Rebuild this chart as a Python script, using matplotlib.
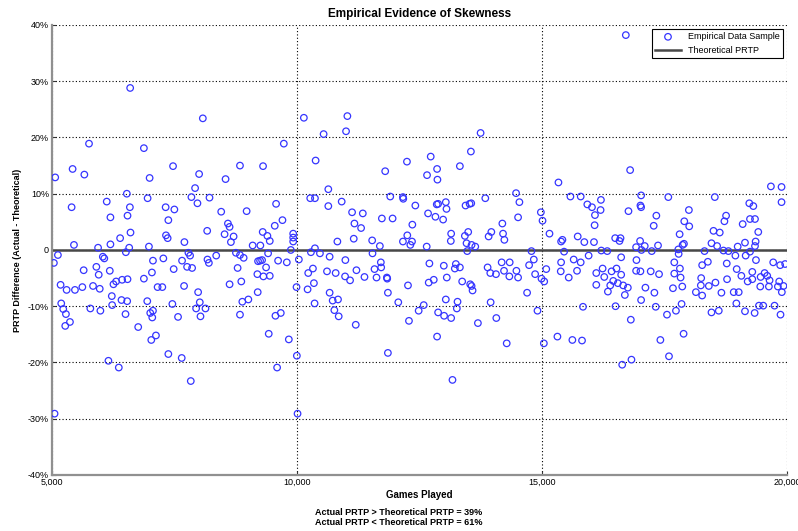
#%%
import numpy as np
import matplotlib
matplotlib.use('Agg')
import matplotlib.pyplot as plt
from matplotlib.ticker import FixedLocator

plt.rcParams['font.family'] = ['Liberation Sans Narrow', 'Liberation Sans', 'DejaVu Sans']

#%%
#--Data (games played, PRTP difference in %)
#5,000 - 10,000 games
games_a = [6598, 8081, 5758, 6878, 9734, 5423, 5663, 5068, 7473, 6995, 8005, 8839, 9310, 8545,
           7923, 6530, 6954, 7848, 8217, 7971, 5403, 6120, 6592, 7322, 7500, 8456, 8975, 9576,
           6195, 6544, 7377, 8593, 8627, 9706, 9549, 9303, 8170, 6605, 7329, 7363, 8525, 8709,
           9399, 9447, 8654, 6393, 7705, 5451, 6195, 5943, 6578, 6981, 9098, 9255, 9925, 9925,
           9925, 9877,
           5123, 6040, 6070, 6510, 7787, 7821, 8354, 8757, 8839, 9413, 5041, 7063, 7275, 7657,
           8176, 8204, 8914, 9208, 9249, 9290, 9617, 9795, 5649, 5908, 5956, 6182, 7042, 7486,
           7760, 7862, 8791, 9372, 9194, 9317, 9447, 5178, 5301, 5471, 5622, 5840, 5977, 6257,
           6311, 6434, 6544, 6878, 7158, 7254, 7698, 8627, 8866, 7985, 9201, 9993, 6223, 6230,
           5191, 5232, 5287, 5273, 5369, 5785, 5990, 6421, 6537, 6503, 6947, 7063, 7008, 7049,
           7459, 7575, 8019, 7944, 8135, 8033, 8887, 9010, 8839, 9563, 9672, 6762, 7029, 7124,
           9426, 9836, 7377, 7650, 6154, 6366, 9597, 10000, 7835, 5055, 10014]
prtp_a = [28.8, 23.4, 18.9, 18.1, 18.9, 14.4, 13.4, 12.9, 14.9, 12.8, 13.5, 15.0, 14.9, 12.6,
          11.0, 10.0, 9.2, 9.4, 9.3, 8.3, 7.6, 8.6, 7.6, 7.6, 7.2, 6.8, 6.9, 8.2,
          5.8, 6.1, 5.3, 4.7, 4.1, 5.3, 4.3, 3.2, 3.4, 3.1, 2.6, 2.1, 2.8, 2.4,
          2.5, 1.6, 1.4, 2.1, 1.4, 0.9, 1.0, 0.4, 0.4, 0.6, 0.8, 0.8, 2.9, 2.2,
          1.5, 0.0,
          -0.9, -1.2, -1.5, -0.4, -0.5, -1.0, -1.0, -0.5, -0.9, -0.6, -2.3, -1.9, -1.5, -1.9,
          -1.7, -2.3, -1.4, -2.0, -1.9, -1.8, -1.9, -2.2, -3.6, -3.0, -4.4, -3.7, -4.0, -3.4,
          -3.0, -3.2, -3.2, -3.1, -4.3, -4.7, -4.6, -6.2, -7.1, -7.1, -6.6, -6.4, -6.9, -6.1,
          -5.6, -5.3, -5.2, -5.1, -6.6, -6.6, -6.4, -6.1, -5.6, -7.5, -7.5, -6.6, -8.2, -9.8,
          -9.5, -10.5, -11.4, -13.5, -12.8, -10.4, -10.8, -8.9, -9.1, -11.4, -9.1, -10.8, -11.2, -12.0,
          -9.6, -11.9, -9.3, -10.4, -10.4, -11.8, -9.2, -8.8, -11.5, -11.7, -11.2, -13.7, -16.0, -15.2,
          -14.9, -15.9, -18.5, -19.2, -19.7, -20.9, -20.9, -18.8, -23.3, -29.1, -29.1]

#10,000 - 15,000 games
games_b = [10143, 11031, 11004, 10546, 13750, 10383, 12247, 12732, 13552, 11803, 12862, 12657, 12869, 13327,
           10642, 10273, 10369, 10915, 10642, 11906, 12165, 12172, 12418, 12855, 12883, 13040, 13054, 13443,
           13525, 13559, 13846, 14474, 14542, 14515, 14980, 15014, 11127, 11346, 11735, 11954, 12678, 12828,
           12985, 11175, 11311, 12357, 14194, 13149, 13497, 13429, 13969, 13914, 14208, 14235, 12254, 11161,
           11537, 10827, 12165, 12350, 12316, 11694, 12650, 13142, 13463, 13566, 13641, 10369,
           10287, 10471, 10669, 11544, 13477, 14788, 10041, 10990, 11714, 12705, 12999, 13245, 13224, 13327,
           13893, 14180, 14344, 14836, 14740, 15090, 10328, 10232, 10615, 10792, 11216, 11585, 11721, 10984,
           11086, 11380, 11626, 11837, 11844, 13948, 14064, 14228, 14337, 14481, 14515, 14863, 14993, 15048,
           13060, 12794, 12691, 13374, 13538, 13566, 13586, 10219, 10348, 10669, 10731, 10840, 10765, 10854,
           10362, 11202, 11858, 12268, 12070, 12589, 12486, 12288, 13040, 13279, 13265, 12883, 13005, 13149,
           13695, 13955, 14071, 14699, 14911, 12862, 14283, 15041, 11858, 13176]
prtp_b = [23.5, 23.8, 21.1, 20.6, 20.8, 15.9, 15.7, 16.6, 17.5, 14.0, 14.4, 13.3, 12.5, 14.9,
          10.8, 9.2, 9.2, 8.6, 7.8, 9.5, 9.4, 9.1, 7.9, 8.1, 8.2, 8.5, 7.3, 7.9,
          8.2, 8.3, 9.2, 10.1, 8.5, 5.8, 6.7, 5.2, 6.7, 6.5, 5.6, 5.6, 6.5, 5.9,
          5.4, 4.7, 3.9, 4.5, 4.7, 2.9, 3.2, 2.5, 3.2, 2.4, 2.9, 1.8, 2.6, 2.0,
          1.7, 1.5, 1.5, 1.5, 0.9, 0.7, 0.6, 1.6, 1.2, 0.9, 0.6, 0.3,
          -0.4, -0.6, -1.2, -0.6, -0.2, -0.2, -1.7, -1.8, -2.2, -2.4, -2.8, -2.5, -3.3, -3.1,
          -3.1, -2.2, -2.2, -1.7, -2.7, -3.4, -3.3, -4.1, -3.8, -4.1, -3.6, -3.4, -3.1, -4.7,
          -5.4, -4.8, -4.9, -4.9, -5.1, -4.1, -4.3, -3.7, -4.7, -3.7, -4.9, -4.3, -5.1, -5.6,
          -4.9, -5.3, -5.8, -5.6, -6.1, -6.4, -7.2, -7.0, -5.9, -7.6, -9.0, -8.8, -10.7, -11.8,
          -9.5, -13.3, -7.6, -6.3, -9.3, -9.8, -10.8, -12.6, -8.8, -9.2, -10.4, -11.1, -11.7, -12.1,
          -13.0, -9.3, -12.1, -7.6, -10.8, -15.4, -16.6, -16.6, -18.3, -23.1]

#15,000 - 20,000 games
games_c = [16714, 16802, 15339, 19675, 19892, 19892, 15583, 15793, 16206, 17026, 17581, 18530, 15928, 16023,
           17012, 17026, 19234, 19316, 16199, 16768, 18001, 16084, 17337, 18760, 19248, 19350, 17907, 18726,
           16077, 17283, 18008, 19099, 15156, 15732, 15867, 16064, 15393, 15420, 16497, 16606, 16585, 17005,
           16924, 17100, 17371, 17812, 17873, 17900, 18503, 18631, 18462, 18577, 18997, 19146, 19363, 19350,
           19417, 17785, 17033,
           15454, 15955, 16213, 16335, 17243, 17792, 18320, 18706, 18808, 19248, 19160, 18950, 15393, 15650,
           15793, 15718, 15386, 15549, 16111, 16240, 16274, 16423, 16524, 16619, 16619, 16931, 16924, 17012,
           17222, 17392, 17703, 17703, 17818, 17832, 18272, 18388, 18252, 18774, 18977, 19072, 19370, 19295,
           19201, 19295, 19465, 19546, 19600, 19648, 19722, 19864, 19966, 19844, 16111, 16396, 16457, 16551,
           16660, 16755, 16348, 16694, 17114, 17297, 17026, 17676, 17866, 18144, 18245, 18272, 18408, 18543,
           18665, 18780, 18916, 19018, 19458, 19634, 19817, 19932, 19898, 15840, 16504, 17324, 17554, 17737,
           17852, 18462, 18611, 18970, 19146, 19343, 19431, 19519, 19749, 19871, 16816, 15318, 15623, 15820,
           17419, 17893, 17595, 16829, 16640]
prtp_c = [38.2, 14.2, 12.0, 11.3, 11.2, 8.5, 9.5, 9.5, 8.9, 9.7, 9.4, 9.4, 8.1, 7.6,
          7.9, 7.6, 8.3, 7.8, 7.1, 6.9, 7.1, 6.2, 6.1, 6.1, 5.5, 5.5, 5.1, 5.1,
          4.4, 4.3, 4.2, 4.6, 2.9, 2.4, 1.4, 1.4, 1.5, 1.8, 2.1, 2.1, 1.6, 1.6,
          0.5, 0.7, 0.8, 2.8, 0.9, 1.1, 3.4, 3.1, 1.2, 0.7, 0.6, 1.3, 1.5, 0.7,
          3.2, 0.1, 0.0,
          -0.3, -1.0, -0.1, -0.2, -0.2, -0.7, -0.2, -0.1, -0.2, -0.3, -1.0, -1.0, -2.2, -1.7,
          -2.2, -3.7, -3.8, -4.9, -4.1, -3.3, -4.8, -3.8, -3.3, -1.3, -4.4, -1.8, -3.7, -3.8,
          -3.8, -4.3, -2.2, -4.2, -3.3, -4.9, -2.7, -2.1, -5.0, -2.4, -3.4, -4.6, -1.8, -3.9,
          -5.6, -5.2, -4.8, -4.1, -4.6, -5.4, -2.2, -2.7, -2.5, -5.6, -6.2, -6.3, -5.5, -5.9,
          -6.3, -6.7, -7.4, -8.0, -6.7, -7.6, -8.9, -6.8, -6.5, -7.5, -6.3, -8.1, -6.4, -5.8,
          -7.6, -5.2, -7.5, -7.5, -6.5, -6.5, -6.5, -6.4, -7.5, -10.1, -10.0, -10.1, -11.5, -10.8,
          -9.6, -11.1, -10.8, -9.5, -10.9, -11.2, -9.9, -9.9, -9.9, -11.5, -12.4, -15.4, -16.0, -16.1,
          -16.0, -14.9, -18.9, -19.5, -20.4]

games_played = np.array(games_a + games_b + games_c)
prtp_diff = np.array(prtp_a + prtp_b + prtp_c) / 100.0

theoretical_prtp = 0.0
share_above = 39
share_below = 61

x_ticks = [5000, 10000, 15000, 20000]
x_tick_labels = ['5,000', '10,000', '15,000', '20,000']
y_ticks = [-0.4, -0.3, -0.2, -0.1, 0.0, 0.1, 0.2, 0.3, 0.4]
y_tick_labels = ['-40%', '-30%', '-20%', '-10%', '0', '10%', '20%', '30%', '40%']

#%%
#--Plot
fig = plt.figure(figsize=(7.98, 5.31), dpi=100)
ax = fig.add_axes([0.065, 0.1055, 0.921, 0.8475])

ax.scatter(games_played, prtp_diff, s=22, facecolors='none', edgecolors='#3535ff',
           linewidths=0.9, label='Empirical Data Sample', zorder=3)
ax.axhline(theoretical_prtp, color='#484848', linewidth=1.8, label='Theoretical PRTP', zorder=2)

ax.set_xlim(5000, 20000)
ax.set_ylim(-0.4, 0.4)
ax.xaxis.set_major_locator(FixedLocator(x_ticks))
ax.yaxis.set_major_locator(FixedLocator(y_ticks))
ax.set_xticklabels(x_tick_labels)
ax.set_yticklabels(y_tick_labels)
ax.tick_params(direction='in', length=3, width=0.8, labelsize=6.5, pad=2, colors='#333333',
               labelcolor='black')

ax.grid(True, linestyle=(0, (1, 2)), color='black', linewidth=0.8)
ax.set_axisbelow(True)
ax.spines['top'].set_visible(False)
ax.spines['right'].set_visible(False)
ax.spines['left'].set_color('#909090')
ax.spines['bottom'].set_color('#909090')
ax.spines['left'].set_linewidth(1.6)
ax.spines['bottom'].set_linewidth(1.6)

ax.set_title('Empirical Evidence of Skewness', fontsize=8.5, fontweight='bold', pad=6)
ax.set_xlabel('Games Played', fontsize=7, fontweight='bold', labelpad=2)
ax.set_ylabel('PRTP Difference (Actual - Theoretical)', fontsize=6.5, fontweight='bold', labelpad=4)

leg = ax.legend(loc='upper right', fontsize=6.5, fancybox=False, framealpha=1,
                edgecolor='black', borderaxespad=0.4, handlelength=2.8)
leg.get_frame().set_linewidth(0.8)

fig.text(0.5, 0.025,
         'Actual PRTP > Theoretical PRTP = {}%\nActual PRTP < Theoretical PRTP = {}%'.format(share_above, share_below),
         ha='center', va='center', fontsize=6.5, fontweight='bold', linespacing=1.1)

plt.savefig('out.png', dpi=100)
plt.close()
